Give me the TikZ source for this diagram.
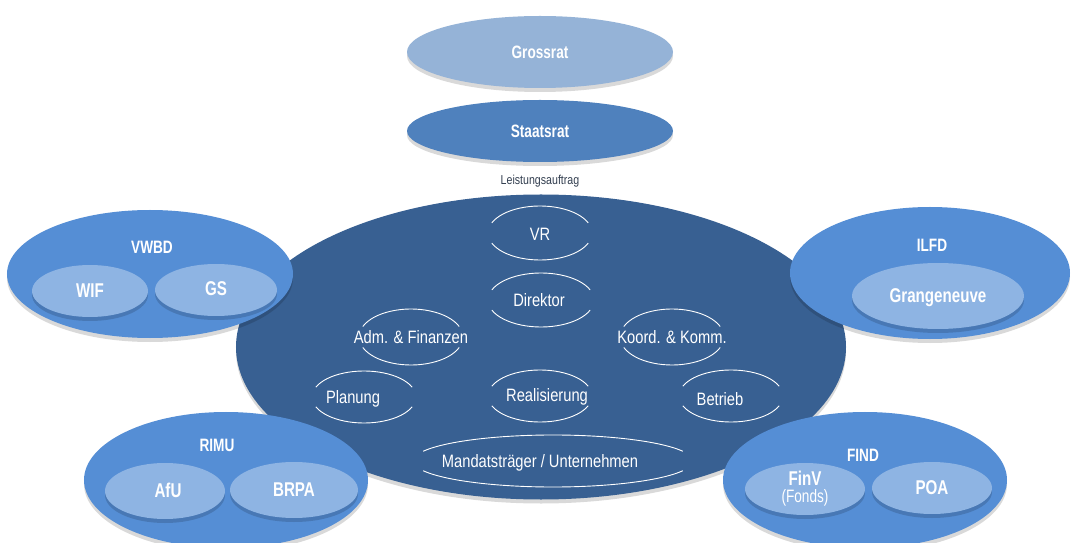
\documentclass[tikz,border=0pt]{standalone}
\usepackage{fontspec}
\setmainfont{Liberation Sans}[FakeStretch=0.82]
\newfontfamily\narrowf{Liberation Sans}[FakeStretch=0.76]
\usetikzlibrary{shapes.geometric,shadows}
\definecolor{cLight}{HTML}{95B3D7}
\definecolor{cState}{HTML}{4F81BD}
\definecolor{cMain}{HTML}{386092}
\definecolor{cDept}{HTML}{558ED5}
\definecolor{cSub}{HTML}{8EB4E3}
\definecolor{cNote}{HTML}{333F50}
\newcommand{\ringarcs}[4]{%
  \draw[ringline] (#1,#2) ++(22:#3 and #4) arc[start angle=22,end angle=158,x radius=#3,y radius=#4];
  \draw[ringline] (#1,#2) ++(202:#3 and #4) arc[start angle=202,end angle=338,x radius=#3,y radius=#4];}
\begin{document}
\begin{tikzpicture}[x=1bp,y=-1bp,
  shade/.style={drop shadow={shadow xshift=0bp,shadow yshift=-4bp,opacity=0.15,fill=black}},
  oval/.style={ellipse,draw=none,inner sep=0pt,text=white,font=\narrowf\fontsize{18}{20}\selectfont\bfseries},
  toplab/.style={text=white,font=\narrowf\fontsize{18}{20}\selectfont\bfseries},
  sublab/.style={text=white,font=\narrowf\fontsize{20}{22}\selectfont\bfseries,align=center},
  inlab/.style={text=white,font=\fontsize{18}{20}\selectfont},
  ringline/.style={draw=white,line width=0.9bp},
  note/.style={text=cNote,font=\fontsize{13}{15}\selectfont}]
\useasboundingbox (0,0) rectangle (1071,543);
\fill[white] (0,0) rectangle (1071,543);
% top ellipses
\node[oval,shade,fill=cLight,minimum width=266bp,minimum height=72bp] (gross) at (540,52) {Grossrat};
\node[oval,shade,fill=cState,minimum width=266bp,minimum height=62bp] (staat) at (540,131) {Staatsrat};
\node[note] (leist) at (540,181) {Leistungsauftrag};
% main ellipse
\node[oval,shade,fill=cMain,minimum width=610bp,minimum height=305bp] (main) at (541,347) {};
% inner rings
\ringarcs{540}{233}{52}{27}
\node[inlab] (vr) at (540,234) {VR};
\ringarcs{541}{300}{53}{27}
\node[inlab] (dir) at (539,300) {Direktor};
\ringarcs{411}{337}{52}{28}
\node[inlab] (adm) at (411,337) {Adm. \& Finanzen};
\ringarcs{672}{337}{52}{28}
\node[inlab] (koord) at (672,337) {Koord. \& Komm.};
\ringarcs{364}{397}{52}{26}
\node[inlab] (plan) at (353,399) {Planung};
\ringarcs{540}{396}{52}{26}
\node[inlab] (real) at (547,397) {Realisierung};
\ringarcs{731}{396}{52}{26}
\node[inlab] (betr) at (720,399) {Betrieb};
\ringarcs{553}{461}{140}{26}
\node[inlab] (mand) at (540,463) {Mandatsträger / Unternehmen};
% VWBD
\node[oval,shade,fill=cDept,minimum width=286bp,minimum height=128bp] (vwbd) at (150,274) {};
\node[toplab] (vwbdl) at (152,247) {VWBD};
\node[oval,shade,fill=cSub,minimum width=116bp,minimum height=52bp] (wif) at (90,291) {};
\node[sublab] (wifl) at (90,291) {WIF};
\node[oval,shade,fill=cSub,minimum width=122bp,minimum height=52bp] (gs) at (216,290) {};
\node[sublab] (gsl) at (216,289) {GS};
% ILFD
\node[oval,shade,fill=cDept,minimum width=280bp,minimum height=132bp] (ilfd) at (930,273) {};
\node[toplab] (ilfdl) at (932,245) {ILFD};
\node[oval,shade,fill=cSub,minimum width=172bp,minimum height=66bp] (grange) at (938,296) {};
\node[sublab] (grangel) at (938,298) {Grangeneuve};
% RIMU
\node[oval,shade,fill=cDept,minimum width=284bp,minimum height=136bp] (rimu) at (226,480) {};
\node[toplab] (rimul) at (217,445) {RIMU};
\node[oval,shade,fill=cSub,minimum width=120bp,minimum height=56bp] (afu) at (165,491) {};
\node[sublab] (aful) at (168,490) {AfU};
\node[oval,shade,fill=cSub,minimum width=128bp,minimum height=56bp] (brpa) at (294,490) {};
\node[sublab] (brpal) at (294,490) {BRPA};
% FIND
\node[oval,shade,fill=cDept,minimum width=284bp,minimum height=136bp] (find) at (865,480) {};
\node[toplab] (findl) at (863,455) {FIND};
\node[oval,shade,fill=cSub,minimum width=120bp,minimum height=52bp] (finv) at (805,489) {};
\node[sublab] (finvl) at (805,489) {FinV\\[-5pt]{\mdseries\fontsize{18}{18}\selectfont (Fonds)}};
\node[oval,shade,fill=cSub,minimum width=120bp,minimum height=52bp] (poa) at (932,488) {};
\node[sublab] (poal) at (932,488) {POA};
\end{tikzpicture}
\end{document}
